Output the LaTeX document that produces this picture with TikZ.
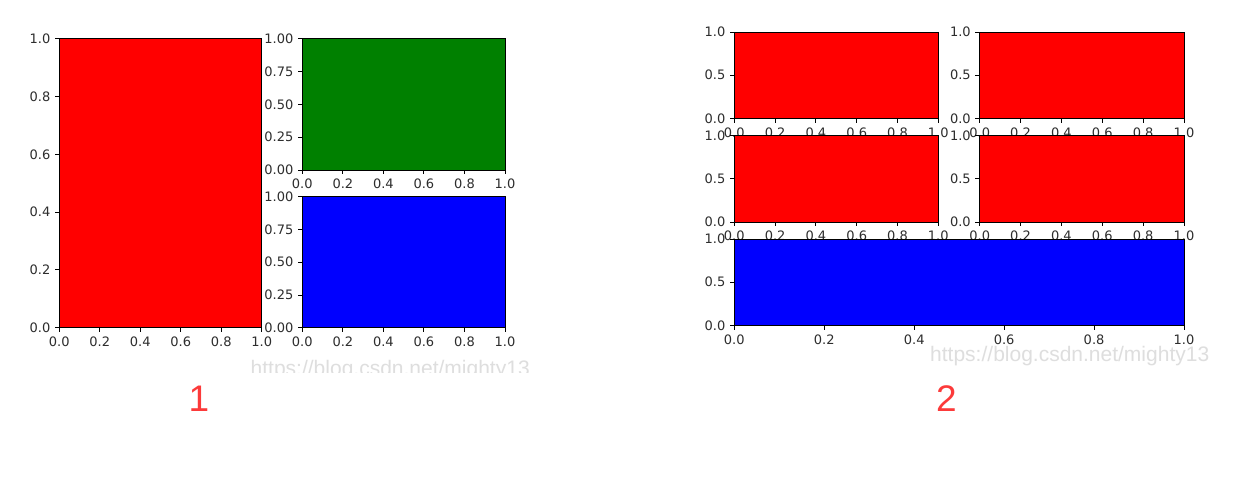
\documentclass[tikz,border=0pt]{standalone}
\usepackage{fontspec}
\newfontfamily\dvfont{DejaVu Sans}
\newfontfamily\lsfont{Liberation Sans}
\definecolor{mplred}{RGB}{255,0,0}
\definecolor{mplgreen}{RGB}{0,128,0}
\definecolor{mplblue}{RGB}{0,0,255}
\definecolor{ticktext}{RGB}{45,45,45}
\definecolor{wm}{RGB}{222,222,222}
\definecolor{labred}{RGB}{252,58,58}
\tikzset{
  frame/.style={draw=black, line width=1pt},
  tickln/.style={draw=black, line width=0.9pt},
  ticklab/.style={font=\dvfont\fontsize{13}{13}\selectfont, text=ticktext, inner sep=0pt},
  wmark/.style={font=\lsfont\fontsize{21}{21}\selectfont, text=wm, inner sep=0pt},
  numlab/.style={font=\lsfont\fontsize{37}{37}\selectfont, text=labred, inner sep=0pt}
}
% #1 x0, #2 y0 (top), #3 x1, #4 y1 (bottom), #5 fill, #6 y ticks value/label
\newcommand\mplaxes[6]{%
  \fill[#5] (#1,#2) rectangle (#3,#4);
  \draw[frame] (#1,#2) rectangle (#3,#4);
  \foreach \v/\t in {0/0.0,0.2/0.2,0.4/0.4,0.6/0.6,0.8/0.8,1/1.0}{
    \draw[tickln] ({#1+\v*(#3-#1)},#4) -- ++(0,4.4);
    \node[ticklab, anchor=north] at ({#1+\v*(#3-#1)},{#4+8.8}) {\t};
  }
  \foreach \v/\t in {#6}{
    \draw[tickln] (#1,{#4+\v*(#2-#4)}) -- ++(-4.4,0);
    \node[ticklab, anchor=east] at ({#1-8.8},{#4+\v*(#2-#4)}) {\t};
  }
}
\begin{document}
\begin{tikzpicture}[x=1pt, y=-1pt]
\useasboundingbox (0,0) rectangle (1237,477);
\fill[white] (0,0) rectangle (1237,477);
% ---- figure 1 ----
\mplaxes{59.3}{38.7}{261.7}{327.7}{mplred}{0/0.0,0.2/0.2,0.4/0.4,0.6/0.6,0.8/0.8,1/1.0}
\mplaxes{302.3}{38.7}{505}{170}{mplgreen}{0/0.00,0.25/0.25,0.5/0.50,0.75/0.75,1/1.00}
\mplaxes{302.3}{196.7}{505}{327.7}{mplblue}{0/0.00,0.25/0.25,0.5/0.50,0.75/0.75,1/1.00}
\begin{scope}
  \clip (240,340) rectangle (545,372.5);
  \node[wmark, anchor=base west] (wm1) at (250.5,375.5) {https://blog.csdn.net/mighty13};
\end{scope}
% ---- figure 2 ----
\mplaxes{734.3}{32}{938.3}{118.5}{mplred}{0/0.0,0.5/0.5,1/1.0}
\mplaxes{979.7}{32}{1184}{118.5}{mplred}{0/0.0,0.5/0.5,1/1.0}
\mplaxes{734.3}{135.5}{938.3}{222}{mplred}{0/0.0,0.5/0.5,1/1.0}
\mplaxes{979.7}{135.5}{1184}{222}{mplred}{0/0.0,0.5/0.5,1/1.0}
\mplaxes{734.3}{239}{1184}{325.5}{mplblue}{0/0.0,0.5/0.5,1/1.0}
\node[wmark, anchor=base west] (wm2) at (930,361) {https://blog.csdn.net/mighty13};
% ---- captions ----
\node[numlab] (n1) at (199,399) {1};
\node[numlab] (n2) at (946.3,399) {2};
\end{tikzpicture}
\end{document}
